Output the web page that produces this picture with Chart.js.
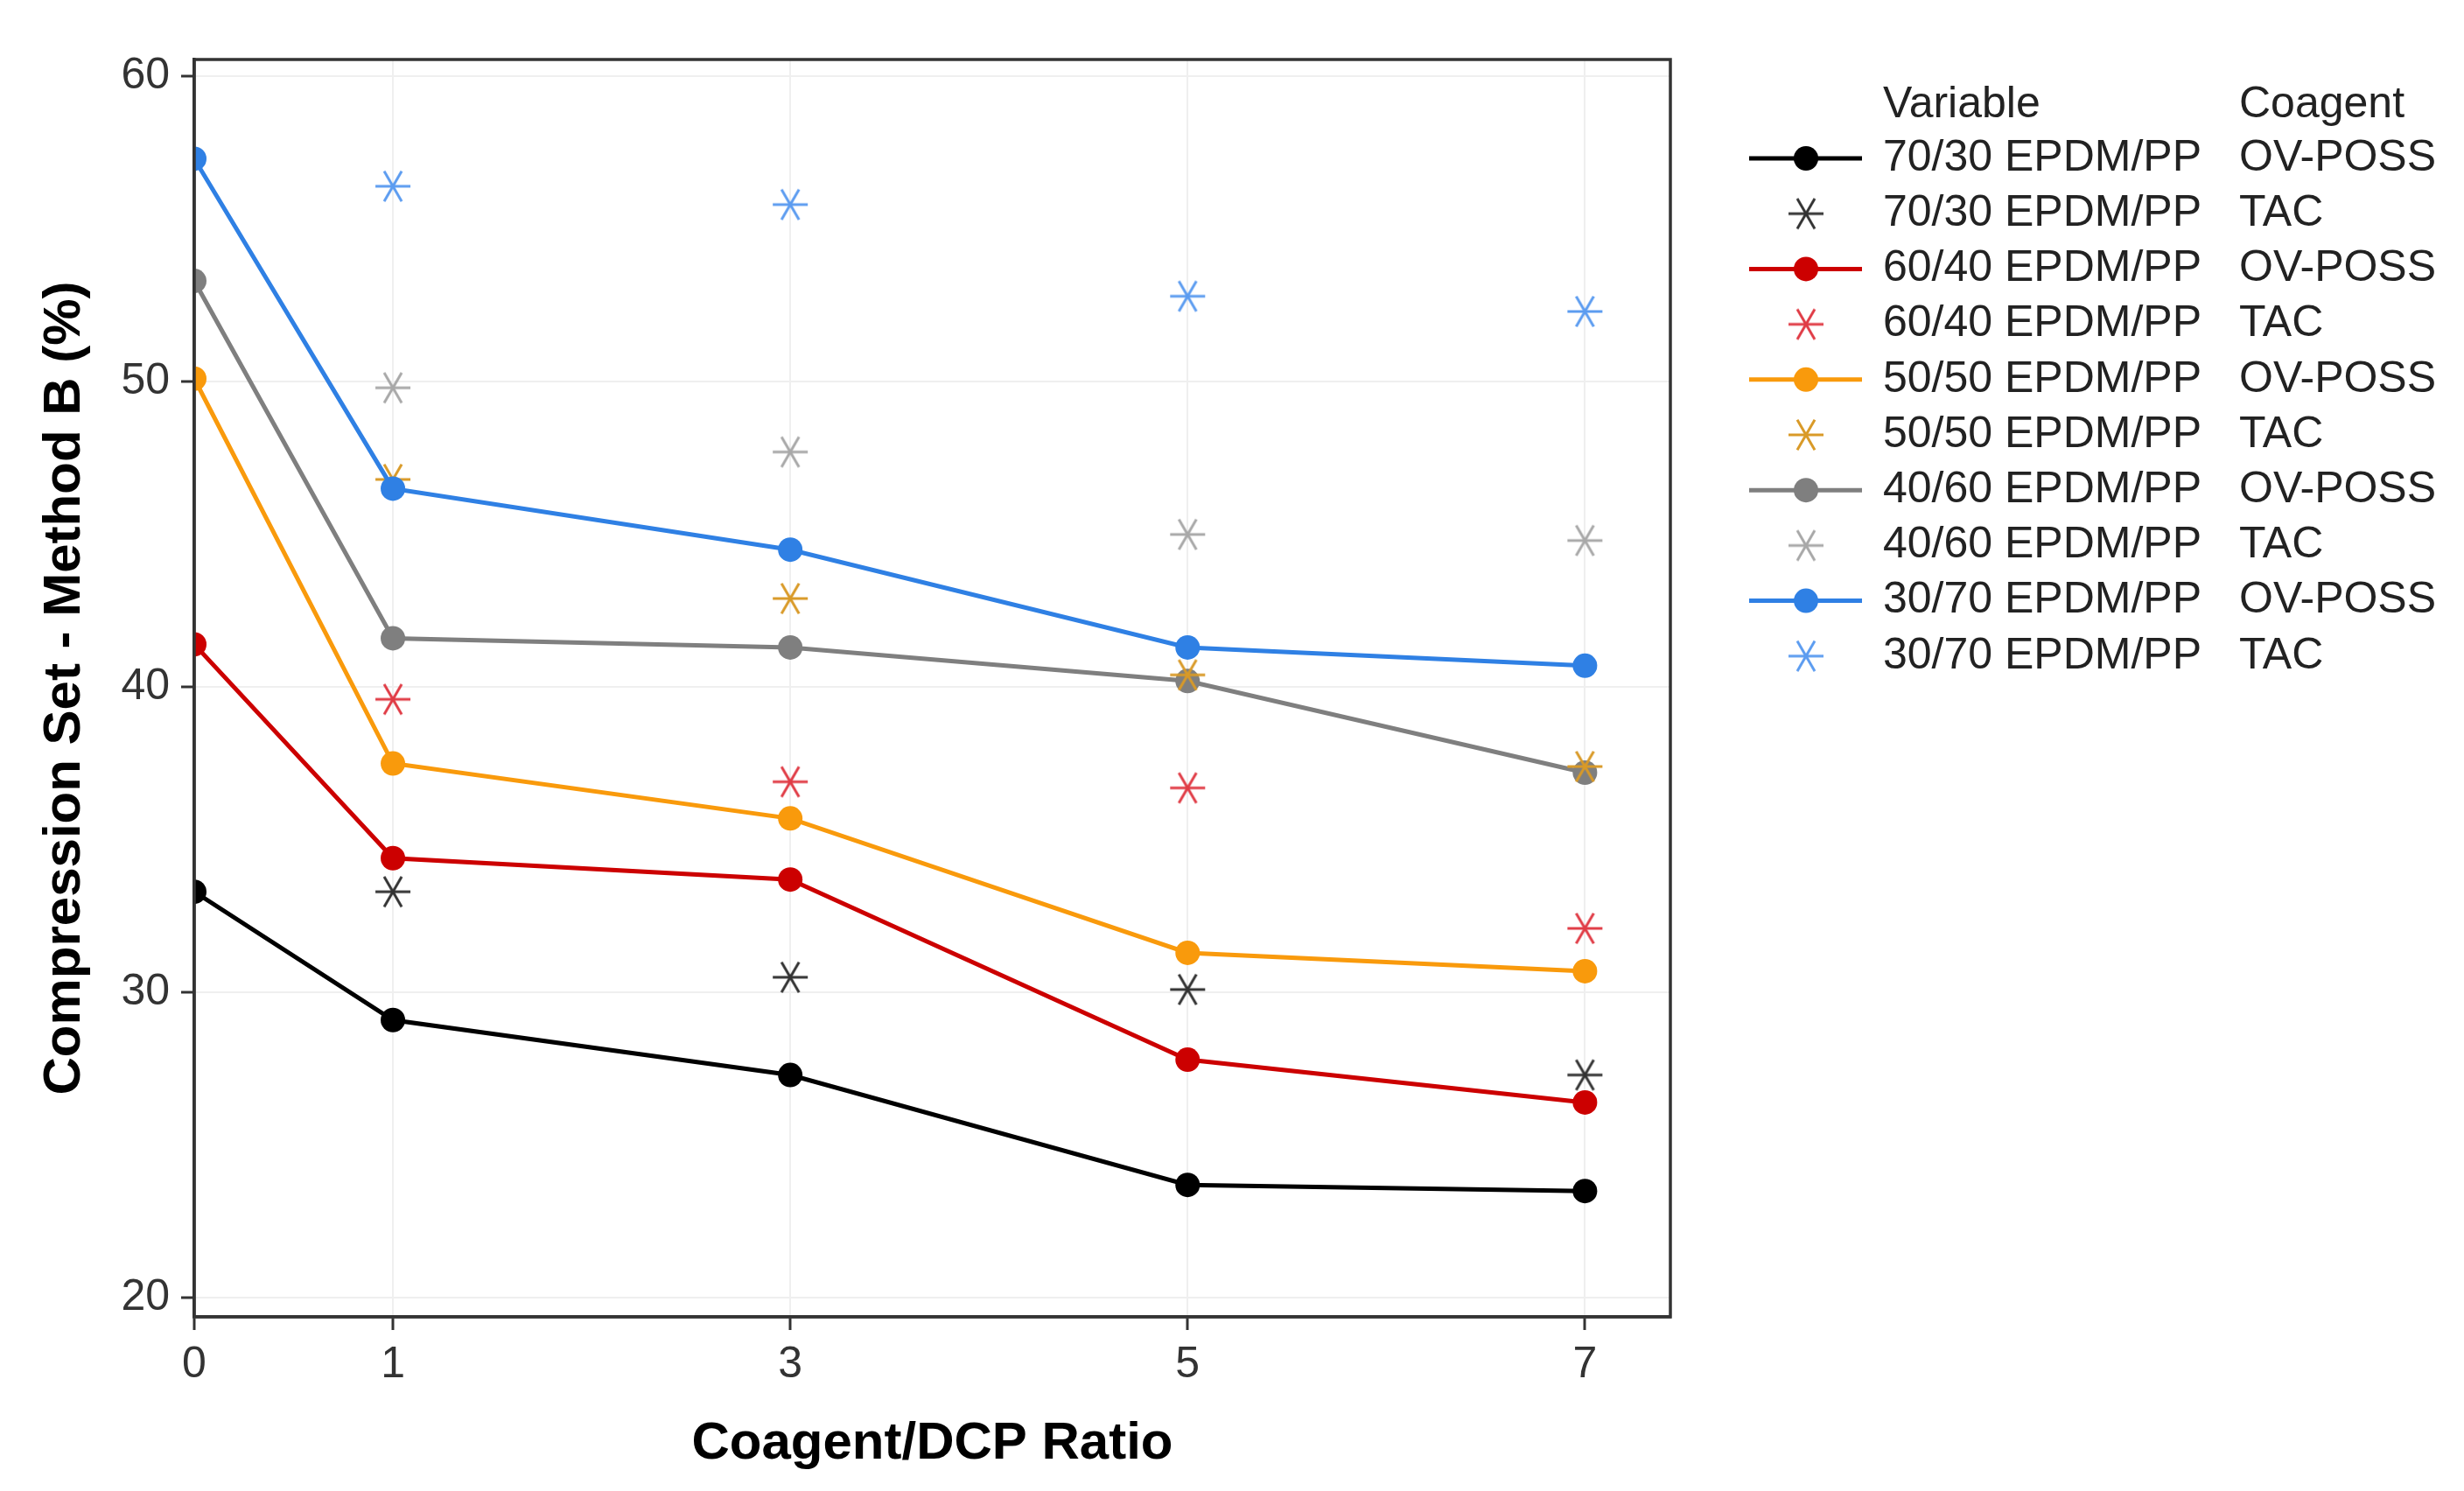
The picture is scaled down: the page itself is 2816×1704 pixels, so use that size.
<!DOCTYPE html>
<html>
<head>
<meta charset="utf-8">
<script src="https://cdn.jsdelivr.net/npm/chart.js"></script>
<style>
  html, body { margin: 0; padding: 0; background: #fff; }
  #chart { display: block; }
</style>
</head>
<body>
<canvas id="chart" width="2816" height="1704"></canvas>
<script>
// Coagent/DCP ratios on the x axis
var ratios = [0, 1, 3, 5, 7];
var tacRatios = [1, 3, 5, 7];

// Compression set (%) with OV-POSS coagent
var ovPoss7030 = [33.3, 29.1, 27.3, 23.7, 23.5];
var ovPoss6040 = [41.4, 34.4, 33.7, 27.8, 26.4];
var ovPoss5050 = [50.1, 37.5, 35.7, 31.3, 30.7];
var ovPoss4060 = [53.3, 41.6, 41.3, 40.2, 37.2];
var ovPoss3070 = [57.3, 46.5, 44.5, 41.3, 40.7];

// Compression set (%) with TAC coagent
var tac7030 = [33.3, 30.5, 30.1, 27.3];
var tac6040 = [39.6, 36.9, 36.7, 32.1];
var tac5050 = [46.8, 42.9, 40.4, 37.4];
var tac4060 = [49.8, 47.7, 45.0, 44.8];
var tac3070 = [56.4, 55.8, 52.8, 52.3];

var blends = ['70/30 EPDM/PP', '60/40 EPDM/PP', '50/50 EPDM/PP', '40/60 EPDM/PP', '30/70 EPDM/PP'];
var coagents = ['OV-POSS', 'TAC'];
var legendHeaders = ['Variable', 'Coagent'];

var xTicks = [0, 1, 3, 5, 7];
var yTicks = [20, 30, 40, 50, 60];

var possColors = ['#000000', '#CC0000', '#F99A0C', '#7F7F7F', '#2F80E4'];
var tacColors = ['#333333', '#E03C46', '#D99A28', '#A8A8A8', '#5C9CF0'];

var FONT = '"Liberation Sans", Arial, sans-serif';

// little asterisk (horizontal + two 60 degree arms) used for the TAC points
function makeAsterisk(color) {
    const c = document.createElement('canvas');
    c.width = 46;
    c.height = 46;
    const g = c.getContext('2d');
    g.strokeStyle = color;
    g.lineWidth = 3;
    for (let a = 0; a < 3; a++) {
        const t = a * Math.PI / 3;
        g.beginPath();
        g.moveTo(23 - 20 * Math.cos(t), 23 - 20 * Math.sin(t));
        g.lineTo(23 + 20 * Math.cos(t), 23 + 20 * Math.sin(t));
        g.stroke();
    }
    return c;
}

function toPoints(xs, ys) {
    return ys.map((y, i) => ({ x: xs[i], y: y }));
}

var possSeries = [ovPoss7030, ovPoss6040, ovPoss5050, ovPoss4060, ovPoss3070];
var tacSeries = [tac7030, tac6040, tac5050, tac4060, tac3070];

// datasets in legend order; "order" only decides what sits on top
var datasets = [];
blends.forEach((blend, i) => {
    datasets.push({
        label: blend,
        coagent: coagents[0],
        data: toPoints(ratios, possSeries[i]),
        borderColor: possColors[i],
        backgroundColor: possColors[i],
        borderWidth: 5,
        pointRadius: 14,
        pointBorderWidth: 0,
        pointStyle: 'circle',
        showLine: true,
        order: i === 4 ? 0 : 2
    });
    datasets.push({
        label: blend,
        coagent: coagents[1],
        data: toPoints(tacRatios, tacSeries[i]),
        borderColor: tacColors[i],
        backgroundColor: tacColors[i],
        pointStyle: makeAsterisk(tacColors[i]),
        pointRadius: 20,
        showLine: false,
        order: 1
    });
});

// two-column legend like the original (symbol, Variable, Coagent)
const sideLegend = {
    id: 'sideLegend',
    afterDraw(chart) {
        const ctx = chart.ctx;
        ctx.save();
        ctx.font = '50px ' + FONT;
        ctx.fillStyle = '#222';
        ctx.textBaseline = 'middle';
        ctx.textAlign = 'left';
        ctx.fillText(legendHeaders[0], 2152, 120);
        ctx.fillText(legendHeaders[1], 2559, 120);
        chart.data.datasets.forEach((ds, i) => {
            const y = 181 + i * 63.2;
            if (ds.showLine) {
                ctx.strokeStyle = ds.borderColor;
                ctx.lineWidth = 5;
                ctx.beginPath();
                ctx.moveTo(1999, y);
                ctx.lineTo(2128, y);
                ctx.stroke();
                ctx.fillStyle = ds.backgroundColor;
                ctx.beginPath();
                ctx.arc(2064, y, 14, 0, Math.PI * 2);
                ctx.fill();
            } else {
                const img = ds.pointStyle;
                ctx.drawImage(img, 2064 - img.width / 2, y - img.height / 2);
            }
            ctx.fillStyle = '#222';
            ctx.fillText(ds.label, 2152, y);
            ctx.fillText(ds.coagent, 2559, y);
        });
        ctx.restore();
    }
};

// full box round the panel
const panelBox = {
    id: 'panelBox',
    afterDraw(chart) {
        const a = chart.chartArea;
        const ctx = chart.ctx;
        ctx.save();
        ctx.strokeStyle = '#333';
        ctx.lineWidth = 3.5;
        ctx.strokeRect(a.left, a.top, a.right - a.left, a.bottom - a.top);
        ctx.restore();
    }
};

new Chart(document.getElementById('chart'), {
    type: 'scatter',
    data: { datasets: datasets },
    plugins: [sideLegend, panelBox],
    options: {
        responsive: false,
        devicePixelRatio: 1,
        animation: false,
        events: [],
        layout: { padding: { left: 0, top: 68, right: 907, bottom: 0 } },
        plugins: {
            legend: { display: false },
            tooltip: { enabled: false }
        },
        scales: {
            x: {
                type: 'linear',
                min: 0,
                max: 7.43,
                afterBuildTicks: scale => { scale.ticks = xTicks.map(v => ({ value: v })); },
                afterFit: scale => { scale.height = 199; },
                grid: { color: '#efefef', lineWidth: 2, tickColor: '#333', tickWidth: 3, tickLength: 15 },
                border: { color: '#333', width: 3.5 },
                ticks: { color: '#333', padding: 10, font: { family: FONT, size: 50 } },
                title: {
                    display: true,
                    text: 'Coagent/DCP Ratio',
                    color: '#000',
                    padding: { top: 0, bottom: 18 },
                    font: { family: FONT, size: 60, weight: 'bold' }
                }
            },
            y: {
                type: 'linear',
                min: 19.38,
                max: 60.55,
                afterBuildTicks: scale => { scale.ticks = yTicks.map(v => ({ value: v })); },
                afterFit: scale => { scale.width = 222; },
                grid: { color: '#efefef', lineWidth: 2, tickColor: '#333', tickWidth: 3, tickLength: 15 },
                border: { color: '#333', width: 3.5 },
                ticks: { color: '#333', padding: 13, font: { family: FONT, size: 50 } },
                title: {
                    display: true,
                    text: 'Compression Set - Method B (%)',
                    color: '#000',
                    padding: { top: 38, bottom: 0 },
                    font: { family: FONT, size: 60, weight: 'bold' }
                }
            }
        }
    }
});
</script>
</body>
</html>
